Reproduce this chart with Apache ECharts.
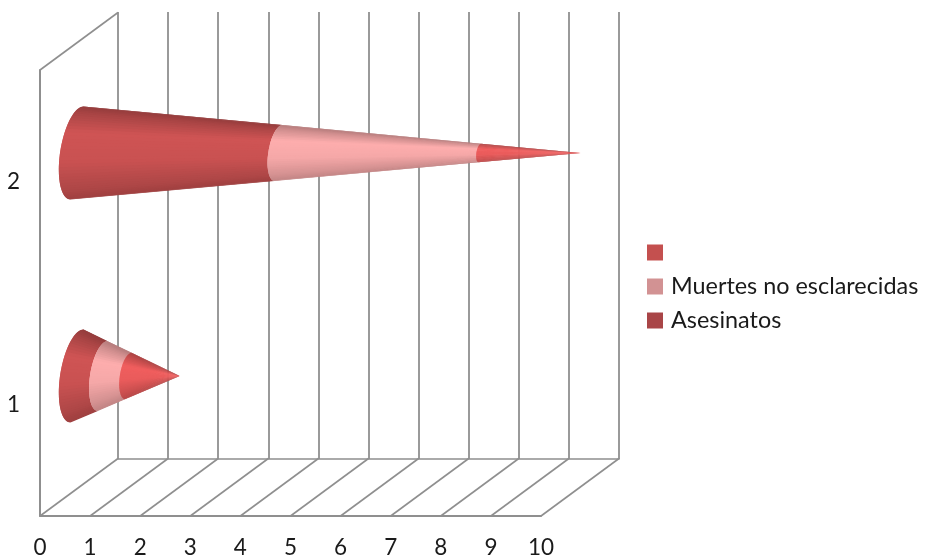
<!DOCTYPE html>
<html><head><meta charset="utf-8">
<style>html,body{margin:0;padding:0;background:#fff}#c{width:927px;height:556px}</style>
<script src="https://cdn.jsdelivr.net/npm/echarts@6/dist/echarts.min.js"></script>
</head><body><div id="c"></div>
<script>
var categories = ['1', '2'];
var xTicks = [0, 1, 2, 3, 4, 5, 6, 7, 8, 9, 10];
var asesinatos = [0.5, 4];
var muertes = [0.5, 4];
var sinNombre = [1, 2];
var seriesNames = ['Asesinatos', 'Muertes no esclarecidas', ' '];

var FONT = 'Lato';
var LINE = '#8f8f8f';
var DEPTH = [78, -57.5];
var MID = [39.5, -28.5];
var LEAN = 6.5 / 223, RAD_Y = 46.5 / 223, RAD_X = 17 / 223, BASE_SHIFT = -2.5;
var FACETS = 40;
var SHADE = [[0, .72], [.07, .82], [.27, 1], [.6, .97], [.9, .84], [1, .77]];

function shade(u) {
  for (var i = 1; i < SHADE.length; i++) {
    if (u <= SHADE[i][0]) {
      var a = SHADE[i - 1], b = SHADE[i];
      return a[1] + (b[1] - a[1]) * (u - a[0]) / (b[0] - a[0]);
    }
  }
  return 1;
}
function tone(rgb, m) {
  return 'rgb(' + rgb.map(function (c) { return Math.round(c * m); }).join(',') + ')';
}
function coneSegment(rgb) {
  return function (params, api) {
    var start = api.value(0), end = api.value(1), cat = api.value(2), total = api.value(3);
    var band = api.size([0, 1])[1];
    var apex = api.coord([total, cat]); apex = [apex[0] + MID[0], apex[1] + MID[1]];
    var c0 = api.coord([0, cat]); c0 = [c0[0] + MID[0] + BASE_SHIFT, c0[1] + MID[1]];
    var f0 = 1 - start / total, f1 = 1 - end / total;
    function pt(th, f) {
      var x = c0[0] - RAD_X * band * Math.cos(th) + LEAN * band * Math.sin(th);
      var y = c0[1] - RAD_Y * band * Math.sin(th);
      return [apex[0] + f * (x - apex[0]), apex[1] + f * (y - apex[1])];
    }
    var children = [];
    /* facets painted bottom to top, each one reaching under the next so no seam shows */
    for (var i = 0; i < FACETS; i++) {
      var t0 = Math.PI * (i / FACETS - .5);
      var t1 = Math.PI * (Math.min(i + 2, FACETS) / FACETS - .5);
      var u = (1 - Math.sin(Math.PI * ((i + .5) / FACETS - .5))) / 2;
      children.push({
        type: 'polygon', silent: true,
        shape: { points: [pt(t0, f0), pt(t1, f0), pt(t1, f1), pt(t0, f1)] },
        style: { fill: tone(rgb, shade(u)) }
      });
    }
    return { type: 'group', children: children };
  };
}
function segments(values, before) {
  return categories.map(function (c, i) {
    var s = before.reduce(function (acc, arr) { return acc + arr[i]; }, 0);
    var total = asesinatos[i] + muertes[i] + sinNombre[i];
    return [s, s + values[i], i, total];
  });
}
function frameItem(params, api) {
  var cs = params.coordSys, v = api.value(0);
  var p = api.coord([v, 0]);
  var bottom = cs.y + cs.height;
  var ln = function (x1, y1, x2, y2) {
    return { type: 'line', silent: true, shape: { x1: x1, y1: y1, x2: x2, y2: y2 },
      style: { stroke: LINE, lineWidth: 1.6 } };
  };
  var kids = [ln(p[0], bottom, p[0] + DEPTH[0], bottom + DEPTH[1])];
  if (v === xTicks[0]) kids.push(ln(cs.x, cs.y, cs.x + DEPTH[0], cs.y + DEPTH[1]));
  return { type: 'group', children: kids };
}
function custom(name, rgb, color, data) {
  return { type: 'custom', name: name, xAxisIndex: 0, yAxisIndex: 0, renderItem: coneSegment(rgb),
    itemStyle: { color: color }, data: data, z: 5, clip: false,
    encode: { x: [0, 1], y: 2 } };
}

var chart = echarts.init(document.getElementById('c'), null, { renderer: 'canvas' });
chart.setOption({
  animation: false,
  backgroundColor: '#fff',
  textStyle: { fontFamily: FONT },
  legend: {
    left: 647, top: 241, orient: 'vertical', padding: 0, itemWidth: 16, itemHeight: 16, itemGap: 11,
    icon: 'rect', selectedMode: false,
    data: [seriesNames[2], seriesNames[1], seriesNames[0]],
    textStyle: { fontFamily: FONT, fontSize: 23.4, color: '#1a1a1a', padding: [0, 0, 0, 3] }
  },
  grid: [
    { left: 40, top: 70, width: 501, height: 446, outerBoundsMode: 'none' },
    { left: 118, top: 12, width: 501, height: 447, outerBoundsMode: 'none' }
  ],
  xAxis: [
    { type: 'value', gridIndex: 0, min: 0, max: 10, interval: 1,
      axisLine: { show: true, lineStyle: { color: LINE, width: 2 } },
      axisTick: { show: false }, splitLine: { show: false },
      axisLabel: { margin: 20, fontFamily: FONT, fontSize: 22.5, color: '#1a1a1a', showMinLabel: true, showMaxLabel: true } },
    { type: 'value', gridIndex: 1, min: 0, max: 10, interval: 1,
      axisLine: { show: true, lineStyle: { color: LINE, width: 1.6 } },
      axisTick: { show: false }, axisLabel: { show: false },
      splitLine: { show: true, lineStyle: { color: LINE, width: 1.8 } } }
  ],
  yAxis: [
    { type: 'category', gridIndex: 0, data: categories,
      axisLine: { show: true, onZero: false, lineStyle: { color: LINE, width: 2 } },
      axisTick: { show: false }, splitLine: { show: false },
      axisLabel: { margin: 20, fontFamily: FONT, fontSize: 22.5, color: '#1a1a1a' } },
    { type: 'category', gridIndex: 1, data: categories,
      axisLine: { show: false }, axisTick: { show: false }, axisLabel: { show: false }, splitLine: { show: false } }
  ],
  series: [
    { type: 'custom', name: 'frame', xAxisIndex: 0, yAxisIndex: 0, renderItem: frameItem, silent: true, clip: false,
      data: xTicks.map(function (t) { return [t]; }), encode: { x: 0 }, z: 1 },
    custom(seriesNames[0], [207, 84, 84], '#a94547', segments(asesinatos, [])),
    custom(seriesNames[1], [253, 173, 173], '#d29293', segments(muertes, [asesinatos])),
    custom(seriesNames[2], [240, 94, 94], '#c4504f', segments(sinNombre, [asesinatos, muertes]))
  ]
});
</script></body></html>
